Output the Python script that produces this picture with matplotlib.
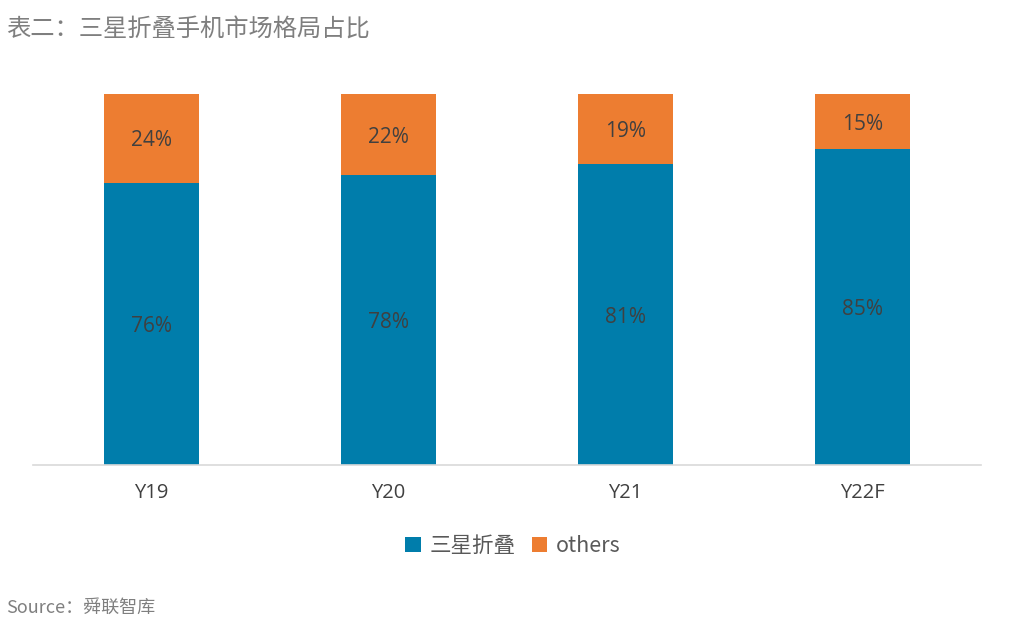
import matplotlib
matplotlib.use('Agg')
import matplotlib.pyplot as plt
import numpy as np

plt.rcParams['font.family'] = ['Open Sans', 'Noto Sans CJK SC', 'DejaVu Sans']

# 数据
categories = ['Y19', 'Y20', 'Y21', 'Y22F']
samsung = [76, 78, 81, 85]
others = [24, 22, 19, 15]

blue = '#007DAB'
orange = '#ED7D31'

fig = plt.figure(figsize=(10.16, 6.25), dpi=100)
ax = fig.add_axes([0.0325, 0.256, 0.933, 0.594])

x = np.arange(len(categories))
b1 = ax.bar(x, samsung, width=0.4, color=blue, label='三星折叠')
b2 = ax.bar(x, others, width=0.4, bottom=samsung, color=orange, label='others')

for xi, s, o in zip(x, samsung, others):
    ax.text(xi, s / 2, f'{s}%', ha='center', va='center_baseline', fontsize=15, color='#404040')
    ax.text(xi, s + o / 2, f'{o}%', ha='center', va='center_baseline', fontsize=15, color='#404040')

ax.set_xlim(-0.5, 3.5)
ax.set_ylim(0, 100)
ax.set_yticks([])
ax.set_xticks(x)
ax.set_xticklabels(categories, fontsize=14.5, color='#404040')
ax.tick_params(axis='x', length=0, pad=13)
for side in ['top', 'left', 'right']:
    ax.spines[side].set_visible(False)
ax.spines['bottom'].set_color('#d9d9d9')
ax.spines['bottom'].set_linewidth(1.2)

fig.legend(handles=[b1, b2], loc='center', bbox_to_anchor=(0.505, 0.127), ncol=2,
           frameon=False, handlelength=0.7, handleheight=0.7,
           handletextpad=0.4, columnspacing=0.8, labelcolor='#595959',
           prop={'family': ['Noto Sans CJK SC', 'DejaVu Sans'], 'size': 15.5})

fig.text(0.006, 0.955, '表二：三星折叠手机市场格局占比',
         family=['Noto Sans CJK SC', 'DejaVu Sans'], fontsize=17.5, color='#7f7f7f',
         ha='left', va='center')
fig.text(0.006, 0.028, 'Source：舜联智库', family=['Noto Sans CJK SC', 'DejaVu Sans'],
         fontsize=13, color='#7f7f7f', ha='left', va='center')

plt.savefig('out.png', dpi=100)
